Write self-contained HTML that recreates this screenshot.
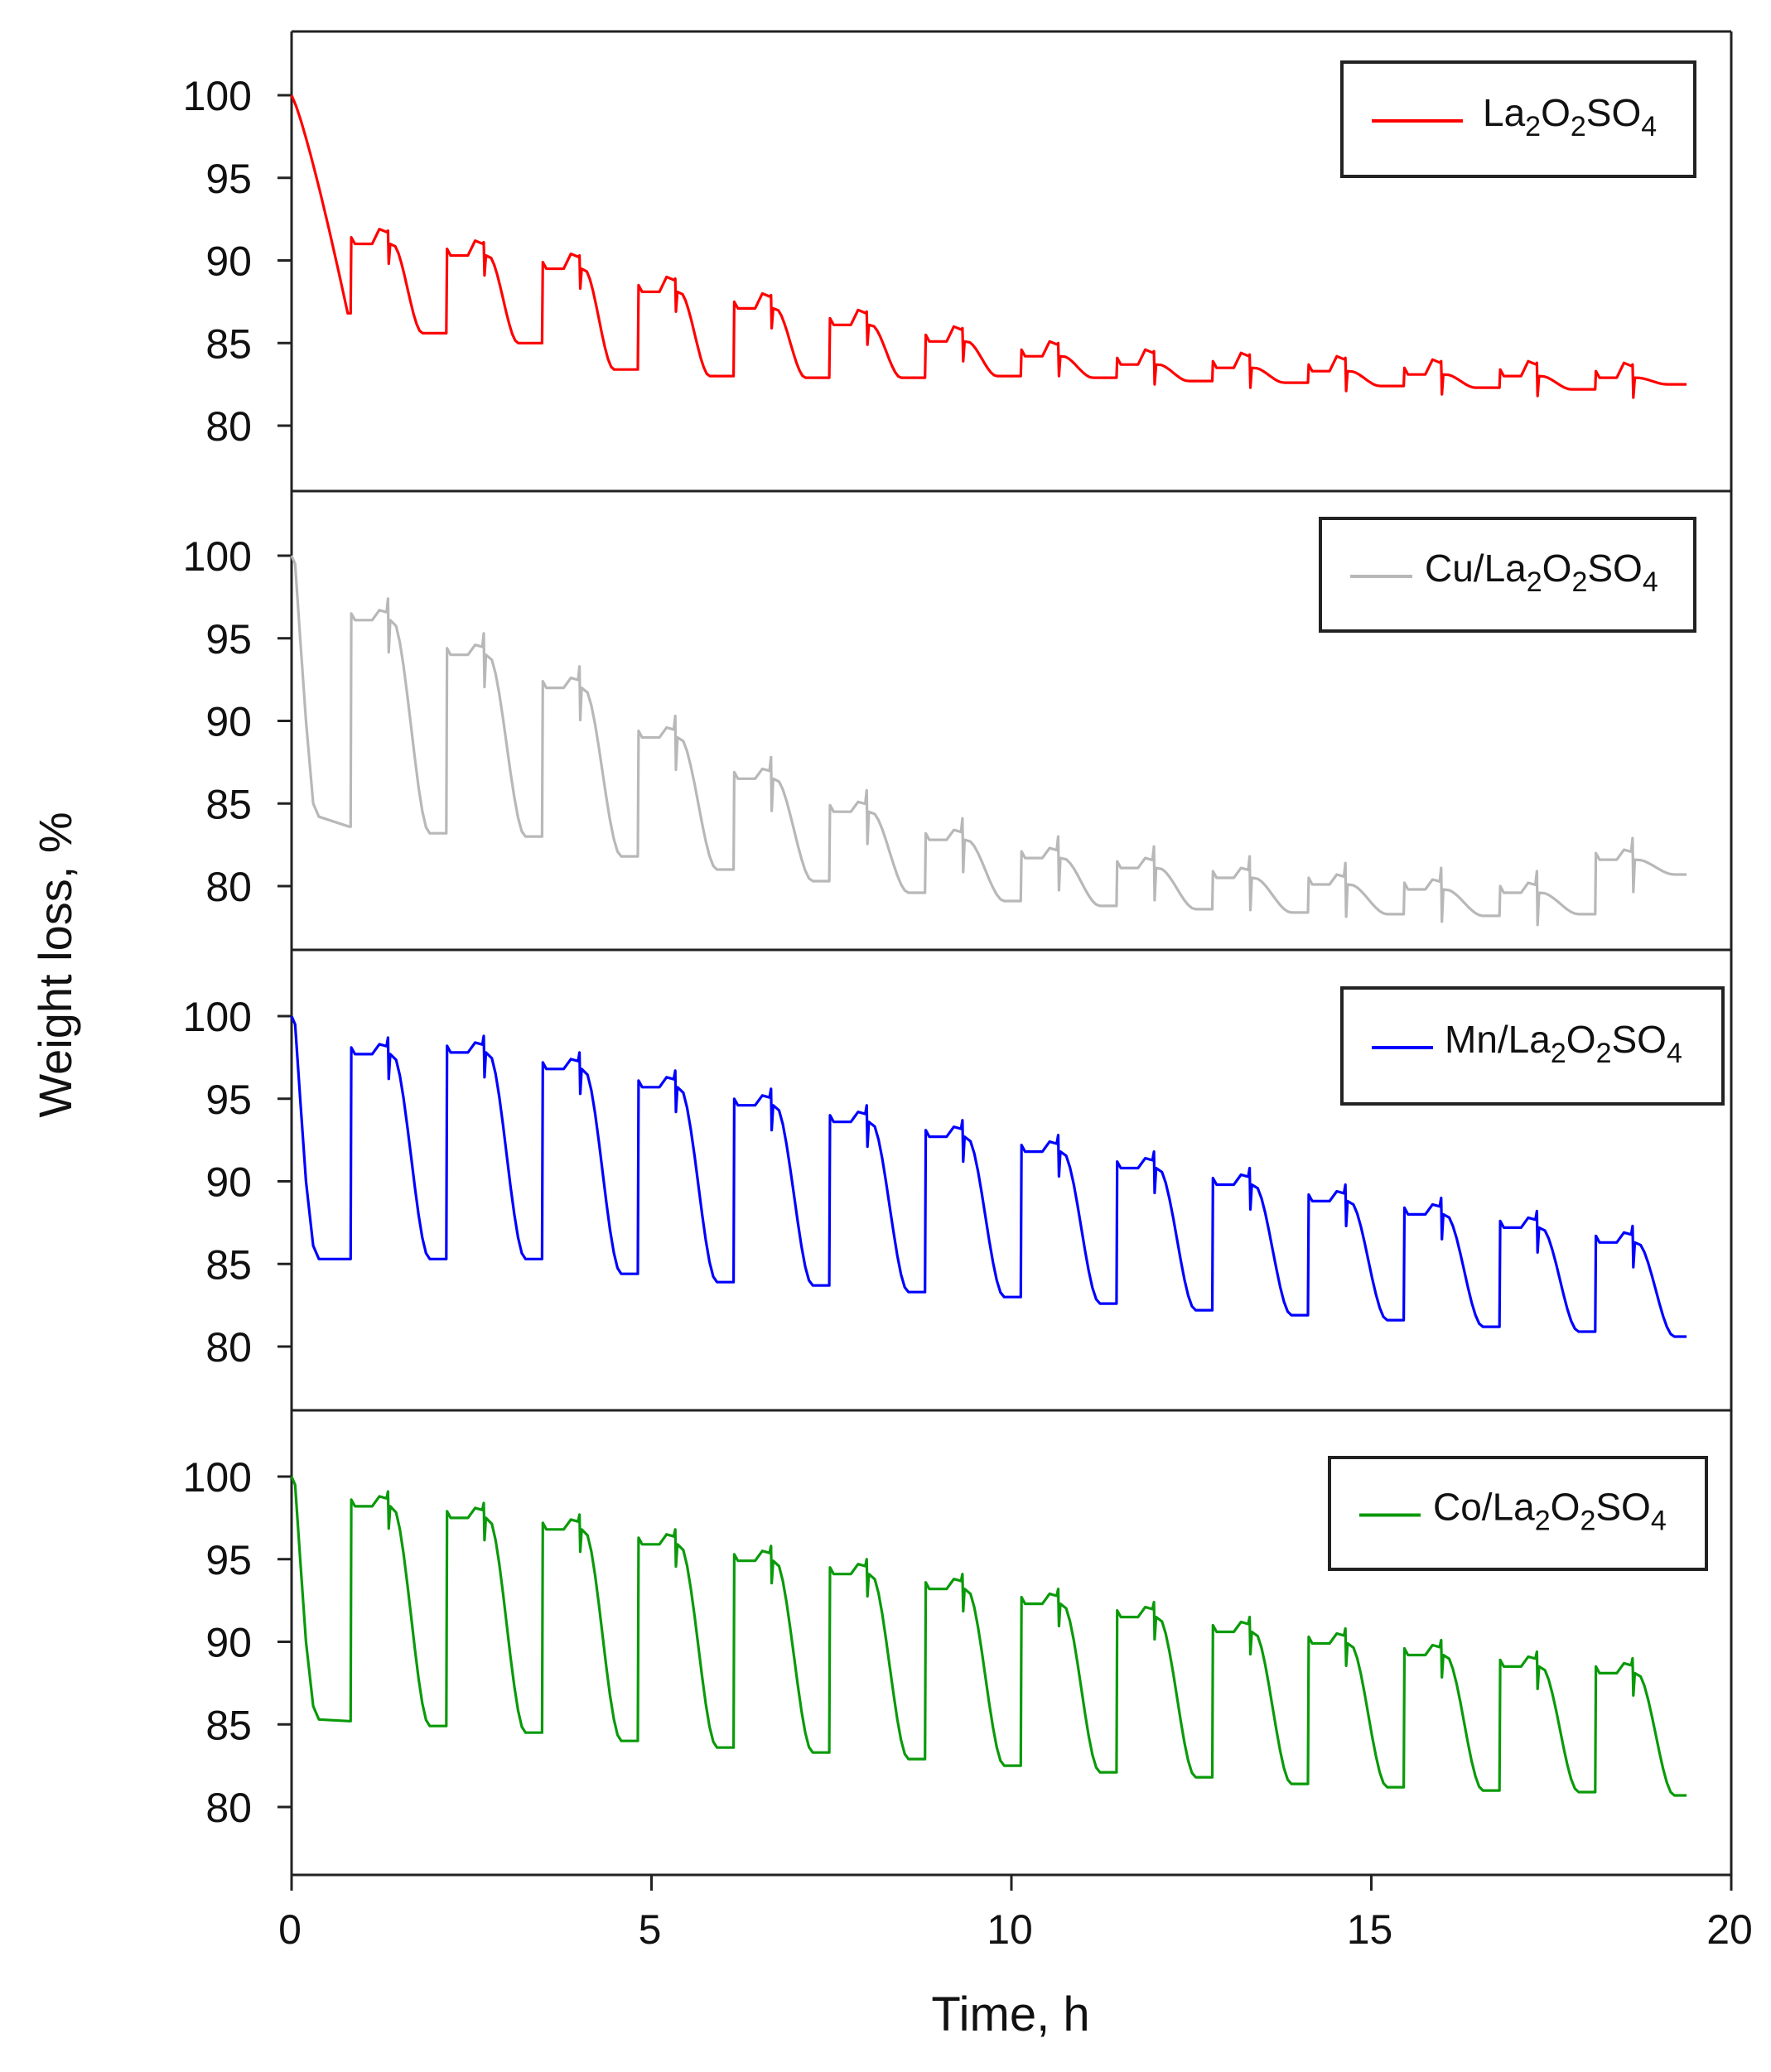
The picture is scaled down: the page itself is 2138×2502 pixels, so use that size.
<!DOCTYPE html>
<html><head><meta charset="utf-8">
<style>
html,body{margin:0;padding:0;background:#fff;}
svg{display:block;}
text{font-family:"Liberation Sans",sans-serif;fill:#111;}
</style></head>
<body>
<svg id="s" width="2138" height="2502" viewBox="0 0 2138 2502" xmlns="http://www.w3.org/2000/svg">
<g id="frame" stroke="#222" stroke-width="3" fill="none">
<line x1="352" y1="38" x2="2090" y2="38"/>
<line x1="2090" y1="38" x2="2090" y2="2264"/>
<line x1="352" y1="38" x2="352" y2="2282"/>
<line x1="352" y1="593" x2="2090" y2="593"/>
<line x1="352" y1="1147" x2="2090" y2="1147"/>
<line x1="352" y1="1703" x2="2090" y2="1703"/>
<line x1="352" y1="2264" x2="2090" y2="2264"/>
</g>
<g id="ticks" stroke="#222" stroke-width="3"></g>
<g id="labels" font-size="50"></g>
<g id="series" fill="none" stroke-width="3.2" stroke-linejoin="round"></g>
<g id="legends"></g>
<text x="1220" y="2452" font-size="58" text-anchor="middle">Time, h</text>
<text transform="translate(86,1165) rotate(-90)" font-size="56" text-anchor="middle">Weight loss, %</text>
</svg>
<script>
var NS="http://www.w3.org/2000/svg";
function el(t,a,p,txt){var e=document.createElementNS(NS,t);for(var k in a)e.setAttribute(k,a[k]);if(txt!==undefined)e.textContent=txt;p.appendChild(e);return e;}
var X0=352,PX=86.9,U=19.95;
var offs=[0,556,1112,1668];
function Y(p,v){return 115+offs[p]+(100-v)*U;}
function X(t){return X0+t*PX;}
var tk=document.getElementById('ticks'),lb=document.getElementById('labels');
for(var p=0;p<4;p++){for(var v=80;v<=100;v+=5){var y=Y(p,v);el('line',{x1:335,y1:y,x2:352,y2:y},tk);el('text',{x:304,y:y+18,'text-anchor':'end'},lb,String(v));}}
for(var t=0;t<=20;t+=5){var x=X(t);el('line',{x1:x,y1:2264,x2:x,y2:2283},tk);el('text',{x:x-2,y:2347,'text-anchor':'middle'},lb,String(t));}
var N=14,per=1.33,j0=0.82;
function jt(k){return j0+per*k;}
function build(p,first,highs,lows,opts){
  opts=opts||{};
  var pts=[];function a(t,v){pts.push([X(t),Y(p,v)]);}
  a(0,100);
  if(first.type==='slow'){for(var i=1;i<=12;i++){var tt=0.78*i/12;a(tt,100-(100-lows[0])*Math.pow(i/12,1.2));}}
  else{a(0.05,99.5);a(0.12,95);a(0.2,90);a(0.3,first.v+0.8);a(0.38,first.v);}
  a(jt(0)-0.02,lows[0]);
  for(var k=0;k<N;k++){
    var t0=jt(k),h=highs[k],lo=lows[k+1],pr=lows[k];
    a(t0,pr);a(t0+0.01,h+0.4);a(t0+0.06,h);
    var bump=opts.bump||0;
    a(t0+0.3,h);a(t0+0.4,h+bump);a(t0+0.5,h+bump*0.8);
    if(opts.spike){a(t0+0.52,h+opts.spike);a(t0+0.53,h-opts.spike*1.5);a(t0+0.55,h);}
    var ds=t0+0.58,de=t0+(opts.dEnd||1.1);
    var te=(k==N-1)?Math.min(de,19.35):de;
    for(var i=1;i<=10;i++){var f=i/10;var s=f*f*(3-2*f);a(ds+(de-ds)*f,h-(h-lo)*s);}
    if(k<N-1)a(jt(k+1)-0.01,lo);else a(19.38,lo);
  }
  return pts.map(function(q,i){return (i?'L':'M')+q[0].toFixed(1)+' '+q[1].toFixed(1);}).join('');
}
var S=document.getElementById('series');
// La
var laH=[91.0,90.3,89.5,88.1,87.1,86.1,85.1,84.2,83.7,83.5,83.3,83.1,83.0,82.9];
var laL=[86.8,85.6,85.0,83.4,83.0,82.9,82.9,83.0,82.9,82.7,82.6,82.4,82.3,82.2,82.5];
el('path',{d:build(0,{type:'slow'},laH,laL,{bump:0.9,spike:0.8,dEnd:1.0}),stroke:'#ff0000'},S);
// Cu
var cuH=[96.1,94.0,92.0,89.0,86.5,84.5,82.8,81.7,81.1,80.5,80.1,79.8,79.6,81.6];
var cuL=[83.6,83.2,83.0,81.8,81.0,80.3,79.6,79.1,78.8,78.6,78.4,78.3,78.2,78.3,80.7];
el('path',{d:build(1,{type:'fast',v:84.2},cuH,cuL,{bump:0.6,spike:1.3,dEnd:1.1}),stroke:'#b8b8b8'},S);
// Mn
var mnH=[97.7,97.8,96.8,95.7,94.6,93.6,92.7,91.8,90.8,89.8,88.8,88.0,87.2,86.3];
var mnL=[85.3,85.3,85.3,84.4,83.9,83.7,83.3,83.0,82.6,82.2,81.9,81.6,81.2,80.9,80.6];
el('path',{d:build(2,{type:'fast',v:85.3},mnH,mnL,{bump:0.6,spike:1.0,dEnd:1.1}),stroke:'#0000ff'},S);
// Co
var coH=[98.2,97.5,96.8,95.9,94.9,94.1,93.2,92.3,91.5,90.6,89.9,89.2,88.5,88.1];
var coL=[85.2,84.9,84.5,84.0,83.6,83.3,82.9,82.5,82.1,81.8,81.4,81.2,81.0,80.9,80.7];
el('path',{d:build(3,{type:'fast',v:85.3},coH,coL,{bump:0.6,spike:0.9,dEnd:1.1}),stroke:'#0a9a0a'},S);
// legends
var L=document.getElementById('legends');
var legs=[[1620,75,2046,213,'#ff0000','',1656,1766,1790],
 [1594,626,2046,762,'#b8b8b8','Cu/',1630,1705,1720],
 [1620,1193,2080,1333,'#0000ff','Mn/',1656,1730,1744],
 [1605,1760,2060,1895,'#0a9a0a','Co/',1641,1715,1730]];
legs.forEach(function(g){
  el('rect',{x:g[0],y:g[1],width:g[2]-g[0],height:g[3]-g[1],fill:'#fff',stroke:'#222','stroke-width':4},L);
  var cy=(g[1]+g[3])/2+2;
  el('line',{x1:g[6],y1:cy,x2:g[7],y2:cy,stroke:g[4],'stroke-width':4},L);
  var t=el('text',{x:g[8],y:cy+6,'font-size':46},L);
  var parts=[[g[5]+'La',0],['2',1],['O',0],['2',1],['SO',0],['4',1]];
  parts.forEach(function(pp){var s=el('tspan',pp[1]?{'font-size':34,dy:12}:{dy:0},t,pp[0]);if(pp[1]){s.setAttribute('dy',12);}});
  // reset dy after subscripts
  var ts=t.childNodes;for(var i=0;i<ts.length;i++){if(i>0&&ts[i-1].getAttribute('font-size')&&!ts[i].getAttribute('font-size'))ts[i].setAttribute('dy',-12);}
});
</script>
</body></html>
